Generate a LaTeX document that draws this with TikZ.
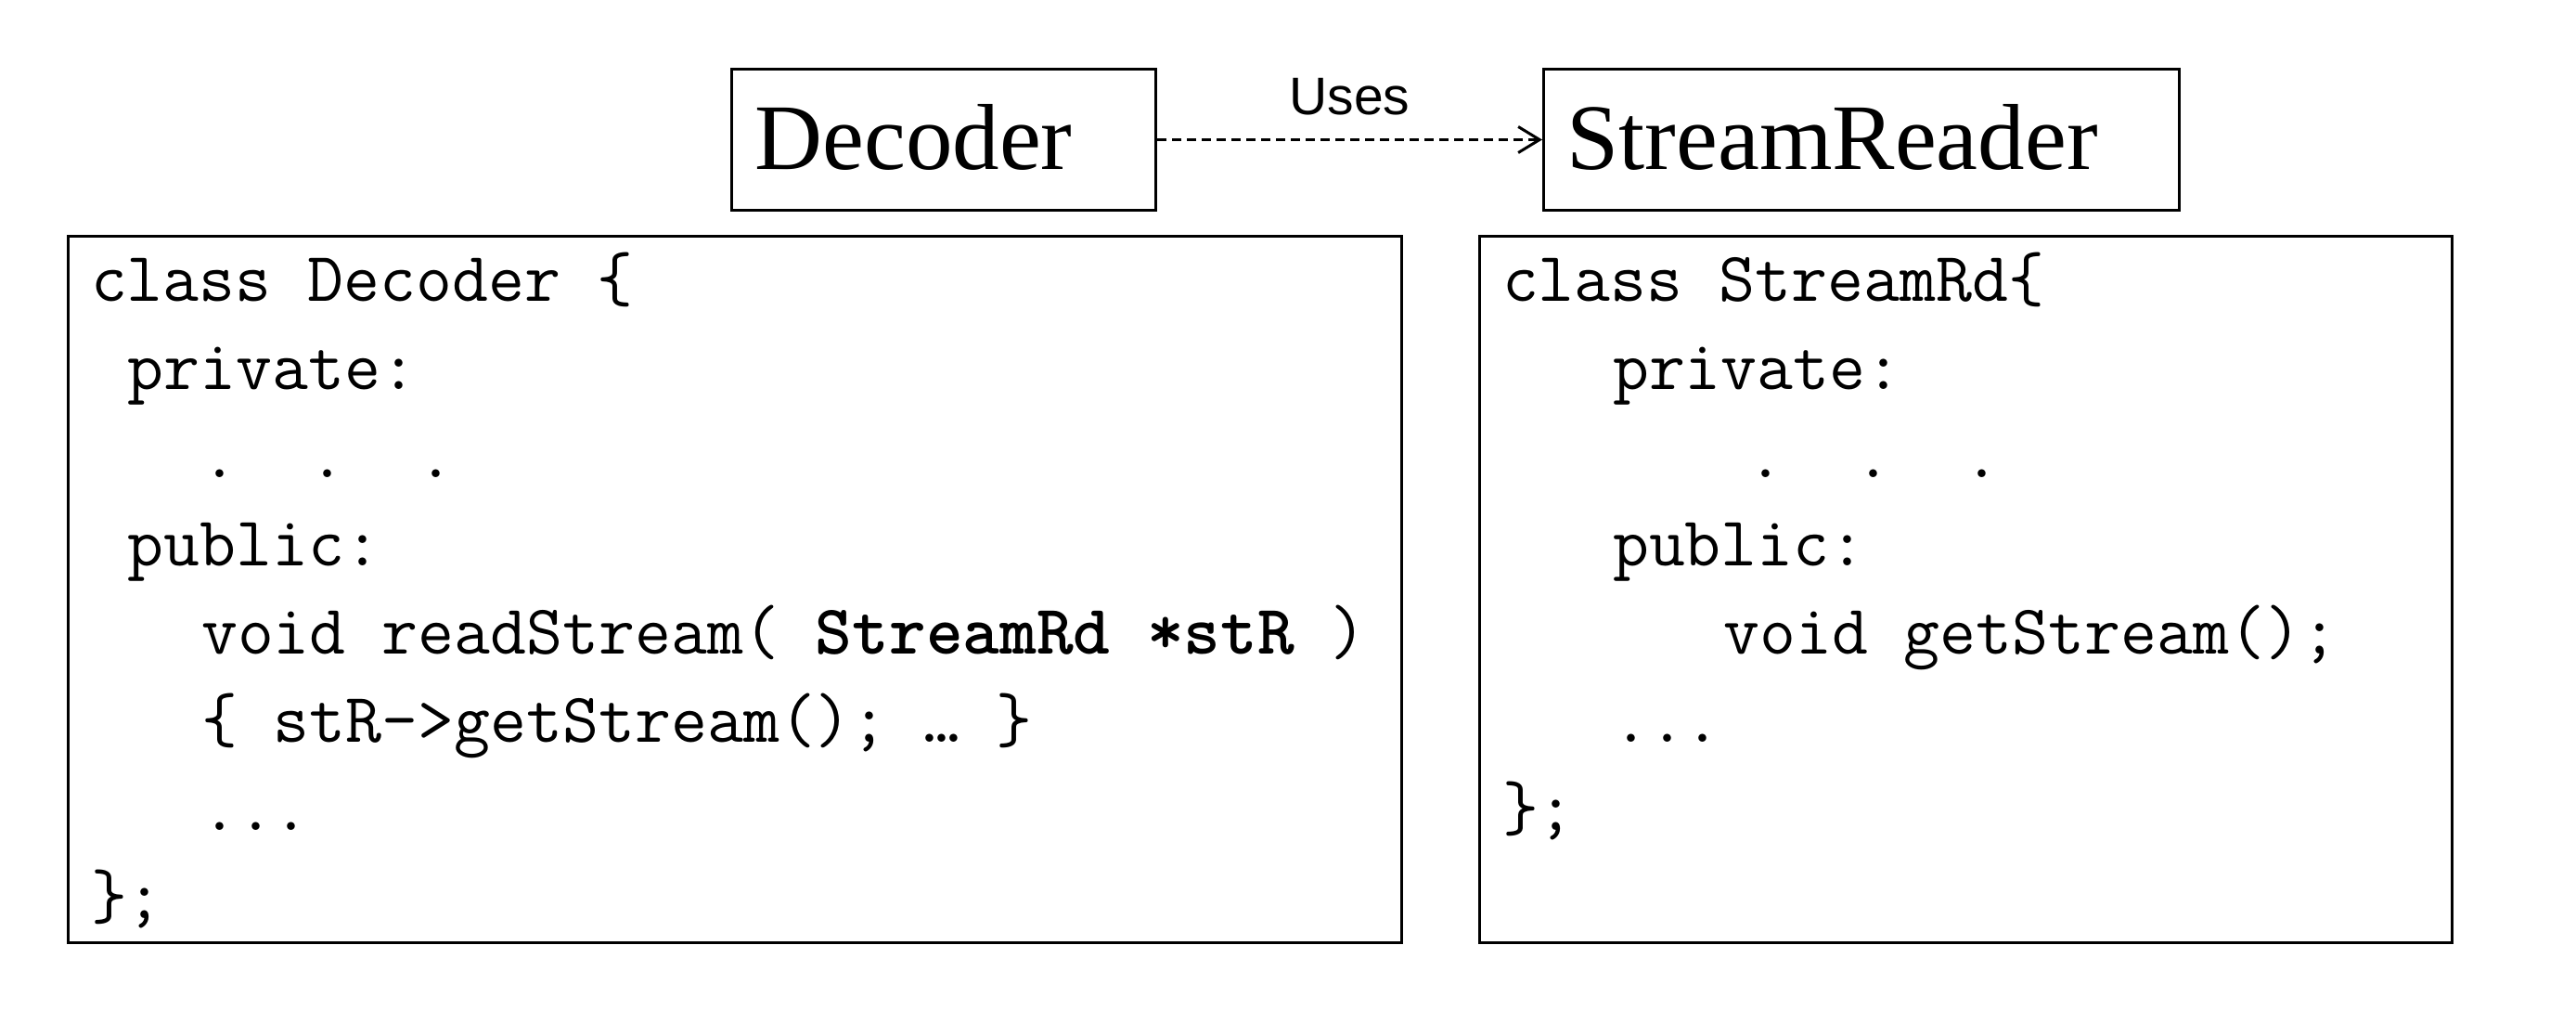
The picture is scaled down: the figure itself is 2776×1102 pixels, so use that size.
\documentclass[tikz,border=0pt]{standalone}
\usepackage{fontspec}
\setmainfont{Liberation Serif}
\setsansfont{Liberation Sans}
\usetikzlibrary{arrows.meta}
\def\titlefont{\fontsize{20.2pt}{24pt}\selectfont}
\def\codefont{\ttfamily\fontsize{15.12pt}{18pt}\selectfont}
\def\usesfont{\sffamily\fontsize{11.4pt}{14pt}\selectfont}
\colorlet{box edge}{black}
\tikzset{titlebox/.style={draw=box edge, line width=0.6pt, anchor=north west,
      minimum width=91.4pt, minimum height=30.4pt, inner xsep=5pt,
      text width=81.4pt, align=left, text depth=1.2pt, font=\titlefont},
    codebox/.style={draw=box edge, line width=0.6pt, anchor=north west,
      minimum height=152.2pt},
    codeline/.style={anchor=base west, inner sep=0pt, font=\codefont},
    uses/.style={draw=box edge, line width=0.6pt, dash pattern=on 2pt off 1.2pt,
      -{Straight Barb[length=4.6pt,width=5.6pt]}}}

\begin{document}
\begin{tikzpicture}[x=0.2pt,y=-0.2pt]
    \useasboundingbox (0,0) rectangle (2776,1102);
    \node[titlebox] (dec) at (787,73) {Decoder};
    \node[titlebox, minimum width=137pt, text width=127pt] (srd) at (1662,73) {StreamReader};
    \draw[uses] (dec) -- node[above=1.6pt, font=\usesfont] (uses) {Uses} (srd);
    \node[codebox, minimum width=287.4pt] (lcode) at (72,253) {};
    \node[codebox, minimum width=209.6pt] (rcode) at (1593,253) {};
    \foreach \ind/\txt [count=\i from 0] in {0/class Decoder \{, 1/private:, 3/.~~.~~., 1/public:,
        3/void readStream( \textbf{StreamRd *stR} ), 3/\{ stR->getStream(); … \}, 3/.{}.{}., 0/\};}
      \node[codeline] (dl\i) at (97+39.7*\ind,325+95*\i) {\txt};
    \foreach \ind/\txt [count=\i from 0] in {0/class StreamRd\{, 3/private:, 6.65/.~~.~~., 3/public:,
        6/void getStream();, 3/.{}.{}., 0/\};}
      \node[codeline] (rl\i) at (1618+39.7*\ind,325+95*\i) {\txt};
  \end{tikzpicture}
\end{document}
